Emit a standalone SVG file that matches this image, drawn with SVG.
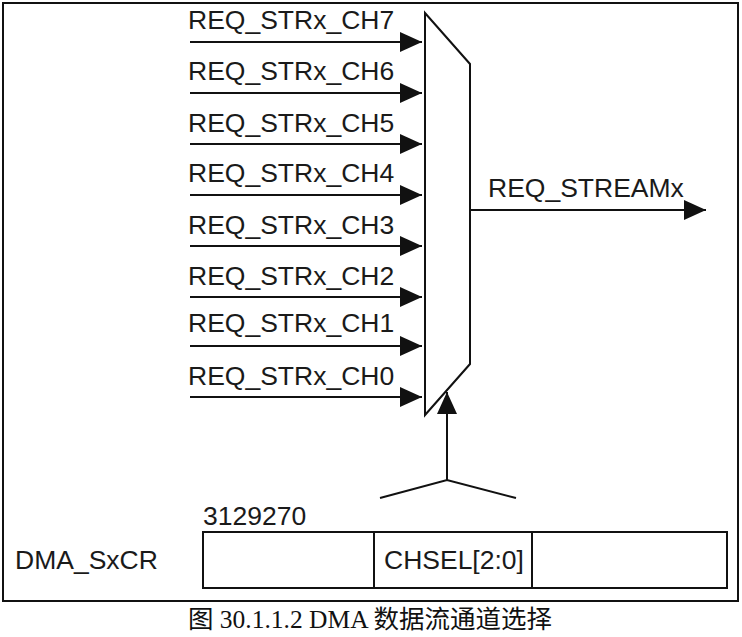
<svg xmlns="http://www.w3.org/2000/svg" width="742" height="637" viewBox="0 0 742 637">
<defs>
<marker id="a" viewBox="0 0 22 20" refX="22" refY="10" markerWidth="22" markerHeight="20" orient="auto" markerUnits="userSpaceOnUse"><path d="M0,0 L22,10 L0,20 z" fill="#111"/></marker>
<style>
.t{font-family:"Liberation Sans",Arial,sans-serif;font-size:26.5px;fill:#1a1a1a}
.l{stroke:#111;stroke-width:2;fill:none}
</style>
</defs>
<rect x="0" y="0" width="742" height="637" fill="#fff"/>
<rect x="3" y="3" width="735" height="598" fill="none" stroke="#111" stroke-width="2"/>
<g id="mux"><path class="l" d="M425,13 L470,64 L470,364 L425,415 Z" stroke-width="3"/></g>
<g id="inputs">
<text class="t" x="188" y="29">REQ_STRx_CH7</text>
<text class="t" x="188" y="80">REQ_STRx_CH6</text>
<text class="t" x="188" y="132">REQ_STRx_CH5</text>
<text class="t" x="188" y="182">REQ_STRx_CH4</text>
<text class="t" x="188" y="234">REQ_STRx_CH3</text>
<text class="t" x="188" y="285">REQ_STRx_CH2</text>
<text class="t" x="188" y="332">REQ_STRx_CH1</text>
<text class="t" x="188" y="385">REQ_STRx_CH0</text>
</g>
<g id="connectors">
<line class="l" x1="190" y1="42" x2="422" y2="42" marker-end="url(#a)"/>
<line class="l" x1="190" y1="93" x2="422" y2="93" marker-end="url(#a)"/>
<line class="l" x1="190" y1="144" x2="422" y2="144" marker-end="url(#a)"/>
<line class="l" x1="190" y1="195" x2="422" y2="195" marker-end="url(#a)"/>
<line class="l" x1="190" y1="246" x2="422" y2="246" marker-end="url(#a)"/>
<line class="l" x1="190" y1="297" x2="422" y2="297" marker-end="url(#a)"/>
<line class="l" x1="190" y1="346" x2="422" y2="346" marker-end="url(#a)"/>
<line class="l" x1="190" y1="397" x2="422" y2="397" marker-end="url(#a)"/>
<line class="l" x1="470" y1="210" x2="706" y2="210" marker-end="url(#a)"/>
<line class="l" x1="447" y1="480" x2="447" y2="392" marker-end="url(#a)"/>
<path class="l" d="M380,498 L447,480 L516,498"/>
</g>
<text class="t" x="488" y="197">REQ_STREAMx</text>
<g id="register">
<rect class="l" x="203" y="532" width="524" height="56"/>
<line class="l" x1="374" y1="532" x2="374" y2="588"/>
<line class="l" x1="532" y1="532" x2="532" y2="588"/>
<text class="t" x="203" y="525">3129270</text>
<text class="t" x="384" y="569">CHSEL[2:0]</text>
<text class="t" x="15" y="569">DMA_SxCR</text>
</g>
<text x="370" y="628" text-anchor="middle" style="font-family:'Liberation Serif','Noto Sans CJK SC',serif;font-size:25.5px;fill:#111">图 30.1.1.2 DMA 数据流通道选择</text>
</svg>
